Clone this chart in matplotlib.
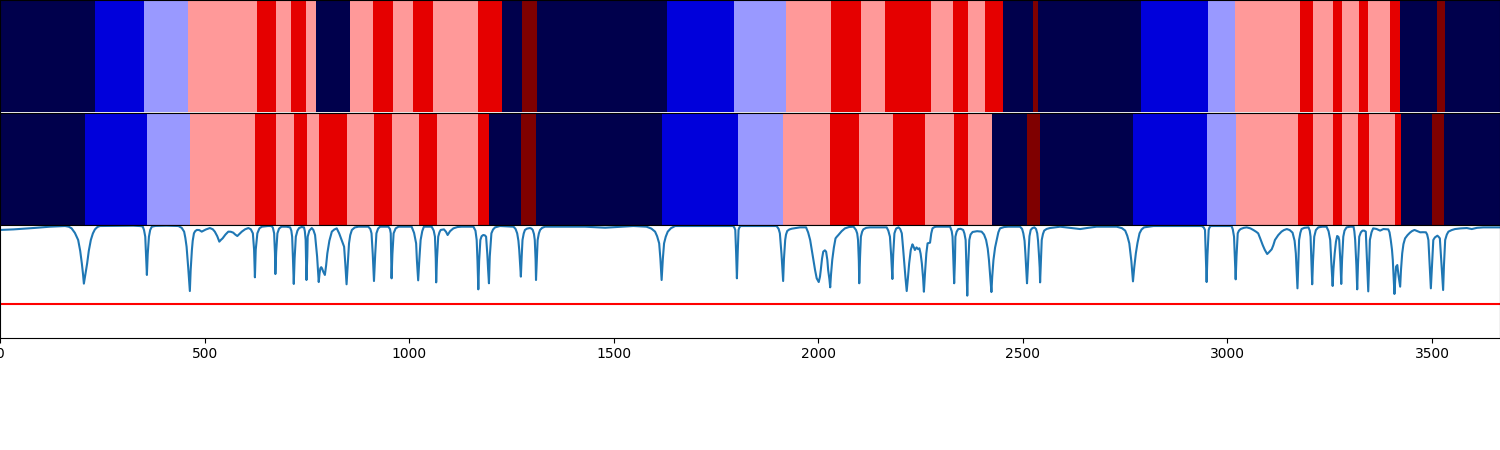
import numpy as np
import matplotlib
matplotlib.use("Agg")
import matplotlib.pyplot as plt

# segment ends and state for the two tracks
top_ends = [232, 352, 459, 628, 675, 711, 748, 772, 855, 912, 960, 1009, 1058, 1168, 1227,
            1276, 1312, 1630, 1794, 1921, 2031, 2104, 2163, 2275, 2329, 2366, 2407, 2451,
            2525, 2537, 2789, 2952, 3018, 3177, 3209, 3258, 3280, 3321, 3343, 3397, 3422,
            3512, 3532, 3666]
top_states = [0, 1, 2, 3, 4, 3, 4, 3, 0, 3, 4, 3, 4, 3, 4, 0, 5, 0, 1, 2, 3, 4, 3, 4, 3, 4, 3, 4,
              0, 5, 0, 1, 2, 3, 4, 3, 4, 3, 4, 3, 4, 0, 5, 0]

bottom_ends = [208, 359, 464, 623, 675, 719, 750, 780, 848, 914, 958, 1024, 1068, 1168, 1195,
               1273, 1310, 1618, 1804, 1914, 2029, 2099, 2182, 2261, 2332, 2366, 2424, 2510,
               2542, 2769, 2950, 3021, 3172, 3209, 3258, 3280, 3319, 3346, 3409, 3424, 3500,
               3529, 3666]
bottom_states = [0, 1, 2, 3, 4, 3, 4, 3, 4, 3, 4, 3, 4, 3, 4, 0, 5, 0, 1, 2, 3, 4, 3, 4, 3, 4, 3,
                 0, 5, 0, 1, 2, 3, 4, 3, 4, 3, 4, 3, 4, 0, 5, 0]

# curve, (position, value)
curve_start = [(0, .956), (33, .961), (81, .973), (122, .985), (159, .991), (168, .985), (175, .970),
               (183, .930), (191, .867), (196, .770), (200, .659), (203, .560), (205, .479),
               (209, .570), (213, .659), (217, .770), (222, .867), (227, .925), (232, .961),
               (238, .982), (244, .991), (326, .994), (345, .990), (349, .985), (352, .955),
               (355, .896), (357, .730), (359, .556), (361, .740), (364, .896), (367, .955),
               (371, .985), (380, .992), (407, .994), (436, .991), (444, .975), (450, .941),
               (453, .885), (456, .807), (460, .620), (464, .413), (466, .600), (469, .778),
               (471, .860), (474, .926), (477, .945), (481, .956), (487, .955), (493, .941),
               (503, .960), (513, .973), (520, .962), (525, .941), (531, .900), (536, .852),
               (540, .868), (544, .881), (551, .915), (558, .941), (564, .940), (570, .932),
               (575, .915), (580, .902), (585, .920), (591, .941), (599, .962), (607, .973),
               (613, .962), (618, .926), (621, .780), (623, .535), (625, .780), (629, .926),
               (634, .970), (640, .985), (655, .991), (664, .991), (667, .975), (670, .926),
               (672, .750), (673, .564), (675, .760), (678, .926), (682, .968), (688, .985),
               (700, .985), (709, .979), (712, .950), (714, .896), (716, .700), (718, .476),
               (720, .700), (723, .896), (727, .950), (731, .973), (737, .982), (743, .979),
               (745, .945), (747, .867), (748, .680), (749, .511), (751, .720), (752, .896),
               (756, .950), (762, .973), (766, .955), (770, .911), (775, .720), (779, .493),
               (781, .570), (783, .615), (785, .625), (787, .615), (790, .585), (794, .556),
               (797, .640), (800, .748), (805, .860), (811, .941), (817, .960), (823, .970),
               (829, .925), (835, .867), (838, .840), (841, .807), (844, .650), (847, .473),
               (850, .660), (853, .837), (856, .910), (860, .956), (867, .978), (876, .985),
               (900, .985), (905, .965), (908, .926), (911, .740), (914, .502), (917, .740),
               (920, .926), (924, .968), (929, .985), (949, .985), (953, .965), (955, .926),
               (956, .740), (957, .526), (959, .740), (962, .926), (967, .970), (974, .985),
               (1006, .985), (1012, .930), (1017, .837), (1019, .680), (1022, .508), (1025, .700),
               (1028, .867), (1032, .945), (1036, .985), (1055, .985), (1060, .950), (1063, .896),
               (1065, .700), (1066, .490), (1068, .700), (1071, .896), (1074, .935), (1077, .956),
               (1085, .961), (1090, .940), (1094, .911), (1100, .945), (1108, .970), (1118, .982),
               (1128, .985), (1157, .985), (1162, .950), (1165, .867), (1167, .680), (1169, .428),
               (1171, .680), (1174, .867), (1177, .900), (1181, .911), (1185, .908), (1188, .896),
               (1191, .740), (1193, .600), (1195, .482), (1197, .720), (1201, .926), (1205, .960),
               (1210, .979), (1222, .991)]
curve_mid = [(1255, .985), (1260, .965), (1264, .926), (1267, .860), (1269, .778), (1271, .660),
             (1273, .541), (1275, .720), (1277, .867), (1280, .925), (1283, .956), (1288, .968),
             (1295, .973), (1299, .968), (1302, .956), (1305, .920), (1307, .867), (1309, .690),
             (1310, .511), (1312, .690), (1314, .867), (1317, .925), (1320, .956), (1325, .975),
             (1332, .985), (1385, .985), (1430, .985), (1479, .976), (1520, .985), (1548, .991),
             (1580, .985), (1592, .968), (1601, .941), (1606, .900), (1611, .837), (1614, .700),
             (1617, .511), (1620, .700), (1623, .837), (1627, .895), (1632, .941), (1640, .972),
             (1650, .991), (1792, .991), (1795, .975), (1797, .956), (1799, .760), (1801, .526),
             (1803, .760), (1805, .956), (1807, .978), (1810, .991), (1898, .991), (1903, .965),
             (1906, .926), (1910, .740), (1914, .502), (1916, .700), (1919, .867), (1921, .915),
             (1924, .947), (1929, .960), (1935, .967), (1955, .979), (1970, .979), (1975, .935),
             (1980, .867), (1984, .780), (1988, .689), (1992, .600), (1996, .526), (2001, .493),
             (2004, .540), (2006, .600), (2009, .700), (2012, .763), (2016, .775), (2019, .763),
             (2022, .690), (2024, .600), (2027, .520), (2029, .446), (2031, .560), (2034, .689),
             (2038, .800), (2042, .881), (2045, .895), (2049, .911), (2057, .945), (2065, .970),
             (2075, .982), (2086, .985), (2092, .956), (2095, .925), (2097, .867), (2099, .680),
             (2100, .482), (2102, .720), (2104, .896), (2107, .940), (2110, .961), (2117, .975),
             (2126, .979), (2167, .979), (2171, .950), (2175, .896), (2178, .730), (2181, .520),
             (2183, .740), (2186, .926), (2190, .968), (2196, .979), (2200, .965), (2204, .926),
             (2207, .800), (2210, .659), (2213, .530), (2216, .413), (2219, .530), (2222, .659),
             (2226, .780), (2230, .828), (2233, .805), (2236, .778), (2238, .790), (2240, .801),
             (2244, .785), (2247, .793), (2250, .745), (2253, .659), (2256, .530), (2258, .407),
             (2261, .590), (2264, .748), (2267, .837), (2273, .843), (2276, .925), (2279, .970),
             (2284, .982), (2289, .985), (2322, .985), (2326, .945), (2328, .896), (2330, .700),
             (2332, .482), (2334, .700), (2335, .896), (2338, .940), (2342, .964), (2348, .966),
             (2354, .956), (2357, .925), (2360, .867), (2362, .620), (2364, .372), (2366, .620),
             (2369, .867), (2372, .915), (2377, .938), (2388, .945), (2399, .941), (2405, .915),
             (2410, .867), (2414, .790), (2417, .689), (2420, .550), (2423, .404), (2425, .540),
             (2428, .689), (2432, .800), (2436, .867), (2440, .935), (2444, .970)]
curve_end = [(2454, .982), (2464, .985), (2493, .985), (2498, .965), (2501, .926), (2504, .860),
             (2506, .748), (2508, .620), (2510, .482), (2512, .620), (2514, .778), (2516, .900),
             (2519, .956), (2523, .972), (2528, .979), (2532, .965), (2535, .926), (2537, .860),
             (2539, .748), (2541, .620), (2542, .490), (2544, .680), (2546, .867), (2549, .920),
             (2552, .950), (2558, .965), (2566, .973), (2591, .985), (2615, .975), (2640, .964),
             (2660, .975), (2680, .985), (2729, .985), (2742, .972), (2750, .950), (2755, .905),
             (2760, .837), (2765, .680), (2769, .499), (2772, .620), (2776, .748), (2780, .840),
             (2785, .926), (2790, .960), (2796, .979), (2819, .991), (2937, .991), (2942, .978),
             (2945, .956), (2947, .730), (2949, .493), (2951, .730), (2954, .956), (2956, .978),
             (2959, .991), (3010, .991), (3013, .960), (3016, .896), (3018, .700), (3020, .517),
             (3022, .720), (3025, .926), (3028, .950), (3032, .964), (3040, .975), (3047, .979),
             (3056, .970), (3063, .956), (3070, .940), (3075, .926), (3080, .880), (3086, .822),
             (3091, .780), (3097, .742), (3102, .760), (3108, .784), (3112, .820), (3116, .867),
             (3124, .910), (3132, .941), (3138, .955), (3145, .964), (3152, .955), (3159, .932),
             (3164, .860), (3167, .748), (3169, .590), (3171, .437), (3173, .640), (3175, .867),
             (3178, .930), (3181, .964), (3188, .975), (3198, .979), (3201, .950), (3203, .896),
             (3205, .680), (3207, .473), (3209, .680), (3212, .896), (3216, .955), (3222, .979),
             (3232, .985), (3242, .985), (3247, .945), (3251, .867), (3254, .650), (3257, .458),
             (3259, .610), (3262, .748), (3265, .850), (3268, .902), (3271, .895), (3273, .867),
             (3276, .670), (3278, .476), (3280, .690), (3283, .896), (3286, .950), (3291, .979),
             (3300, .985), (3308, .985), (3310, .945), (3312, .867), (3315, .640), (3317, .428),
             (3319, .660), (3322, .896), (3326, .935), (3330, .950), (3334, .950), (3338, .941),
             (3341, .680), (3344, .410), (3346, .640), (3348, .867), (3352, .935), (3356, .970),
             (3364, .965), (3373, .950), (3381, .964), (3393, .961), (3396, .935), (3399, .867),
             (3402, .780), (3404, .689), (3406, .540), (3408, .387), (3410, .520), (3412, .630),
             (3415, .644), (3418, .550), (3422, .452), (3424, .600), (3427, .748), (3430, .830),
             (3434, .881), (3440, .910), (3446, .932), (3451, .946), (3457, .956), (3464, .945),
             (3471, .935), (3478, .936), (3485, .935), (3488, .915), (3491, .867), (3494, .650),
             (3497, .437), (3500, .650), (3503, .867), (3507, .890), (3513, .905), (3516, .895),
             (3519, .881), (3523, .650), (3527, .422), (3529, .640), (3532, .867), (3536, .915),
             (3540, .941), (3548, .955), (3556, .964), (3570, .970), (3585, .973), (3597, .964),
             (3610, .975), (3625, .979), (3666, .979)]

threshold = 0.3
x_ticks = [0, 500, 1000, 1500, 2000, 2500, 3000, 3500]


def expand(ends, states):
    lengths = np.diff([0] + ends)
    return np.repeat(states, lengths)[None, :]


pos, prob = zip(*(curve_start + curve_mid + curve_end))

fig, axes = plt.subplots(3, 1, figsize=(15, 4.5), sharex=True)
fig.subplots_adjust(left=0, right=1, top=1, bottom=0.25, hspace=0)

axes[0].imshow(expand(top_ends, top_states), cmap="seismic", vmin=0, vmax=5, aspect="auto",
               interpolation="nearest")
axes[1].imshow(expand(bottom_ends, bottom_states), cmap="seismic", vmin=0, vmax=5, aspect="auto",
               interpolation="nearest")

axes[2].plot(pos, prob)
axes[2].axhline(threshold, color="r")
axes[2].set_ylim(0, 1)
axes[2].set_xlim(0, top_ends[-1])
axes[2].set_xticks(x_ticks)

for ax in axes:
    ax.set_yticks([])
axes[0].tick_params(bottom=False)
axes[1].tick_params(bottom=False)

plt.savefig("out.png", dpi=100)
